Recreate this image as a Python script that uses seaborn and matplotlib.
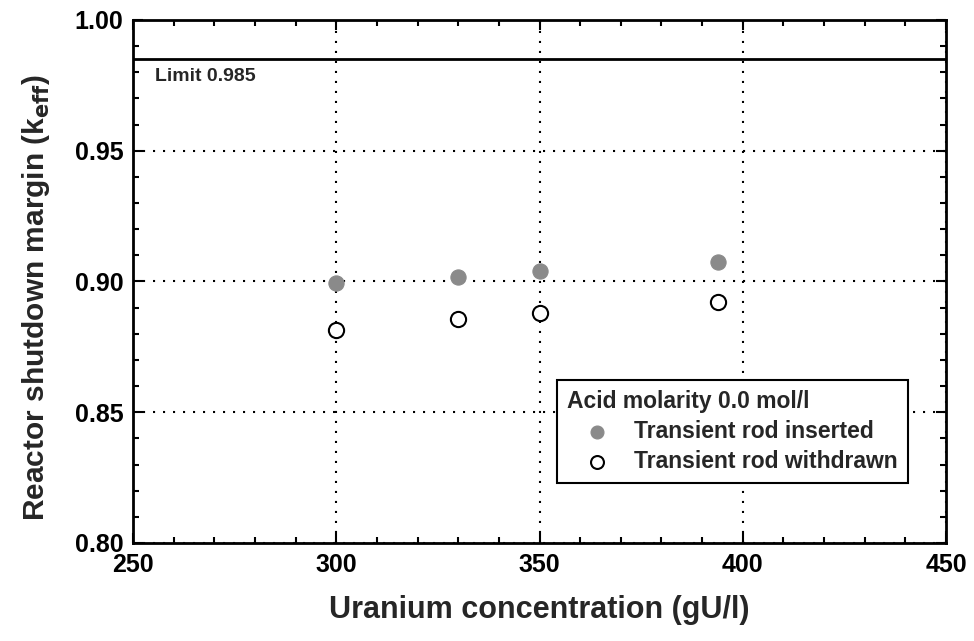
# ============================================================
# IMPORT LIBRARIES
# ============================================================

import numpy as np
import pandas as pd
import matplotlib
matplotlib.use("Agg")
import matplotlib.pyplot as plt
from matplotlib.ticker import MultipleLocator, FormatStrFormatter
import seaborn as sns

# ============================================================
# DATA
# ============================================================

conc_inserted = [300, 330, 350, 394]
keff_inserted = [0.8994, 0.9019, 0.9041, 0.9073]

conc_withdrawn = [300, 330, 350, 394]
keff_withdrawn = [0.8815, 0.8858, 0.8880, 0.8922]

series_labels = ["Transient rod inserted", "Transient rod withdrawn"]

limit_value = 0.985

df = pd.DataFrame({
    "conc": conc_inserted + conc_withdrawn,
    "keff": keff_inserted + keff_withdrawn,
    "case": [series_labels[0]] * len(conc_inserted)
            + [series_labels[1]] * len(conc_withdrawn)
})

# ============================================================
# STYLE
# ============================================================

sns.set_style("ticks")
plt.rcParams['font.family'] = ['Liberation Sans', 'DejaVu Sans']
plt.rcParams['font.weight'] = 'bold'
plt.rcParams['axes.labelweight'] = 'bold'

fig = plt.figure(figsize=(9.74, 6.41), dpi=100)
ax = fig.add_axes([0.1366, 0.1529, 0.8347, 0.8159])

# ============================================================
# PLOT
# ============================================================

sns.scatterplot(
    data=df[df["case"] == series_labels[0]],
    x="conc", y="keff",
    color="#8a8a8a", edgecolor="#8a8a8a",
    s=120, linewidth=0.8,
    label=series_labels[0],
    ax=ax, zorder=3
)

sns.scatterplot(
    data=df[df["case"] == series_labels[1]],
    x="conc", y="keff",
    facecolor="white", edgecolor="black",
    s=120, linewidth=1.5,
    label=series_labels[1],
    ax=ax, zorder=3
)

ax.axhline(limit_value, color="black", linewidth=2, zorder=2)
ax.text(255.4, 0.9785, "Limit 0.985", fontsize=14, fontweight="bold",
        va="center", ha="left")

# ============================================================
# AXES
# ============================================================

ax.set_xlim(250, 450)
ax.set_ylim(0.80, 1.00)

ax.xaxis.set_major_locator(MultipleLocator(50))
ax.xaxis.set_minor_locator(MultipleLocator(10))
ax.yaxis.set_major_locator(MultipleLocator(0.05))
ax.yaxis.set_minor_locator(MultipleLocator(0.01))
ax.yaxis.set_major_formatter(FormatStrFormatter("%.2f"))

ax.tick_params(which="both", direction="in", top=True, right=True,
               width=1.5, colors="black")
ax.tick_params(which="major", length=7, labelsize=18, pad=7)
ax.tick_params(which="minor", length=4)

for lab in ax.get_xticklabels() + ax.get_yticklabels():
    lab.set_fontweight("bold")

ax.grid(which="major", color="black", linestyle=(0, (1, 3.8)),
        linewidth=1.5)

for sp in ax.spines.values():
    sp.set_linewidth(2)
    sp.set_color("black")

ax.set_xlabel("Uranium concentration (gU/l)", fontsize=22,
              fontweight="bold", labelpad=13)
ax.set_ylabel(r"Reactor shutdown margin (k$_{\mathbf{eff}}$)", fontsize=21.5,
              fontweight="bold")
ax.yaxis.set_label_coords(-0.1, 0.47)

# ============================================================
# LEGEND
# ============================================================

leg = ax.legend(
    title="Acid molarity 0.0 mol/l",
    loc="lower left",
    bbox_to_anchor=(0.5215, 0.1147),
    borderaxespad=0,
    fontsize=16.5,
    title_fontproperties={"size": 16.5, "weight": "bold"},
    alignment="left",
    fancybox=False,
    framealpha=1,
    edgecolor="black",
    handlelength=2.6,
    handletextpad=0.3,
    labelspacing=0.3,
    borderpad=0.45,
    markerscale=0.85
)
leg.get_frame().set_linewidth(1.5)
for t in leg.get_texts():
    t.set_fontweight("bold")

fig.savefig("out.png", dpi=100)
